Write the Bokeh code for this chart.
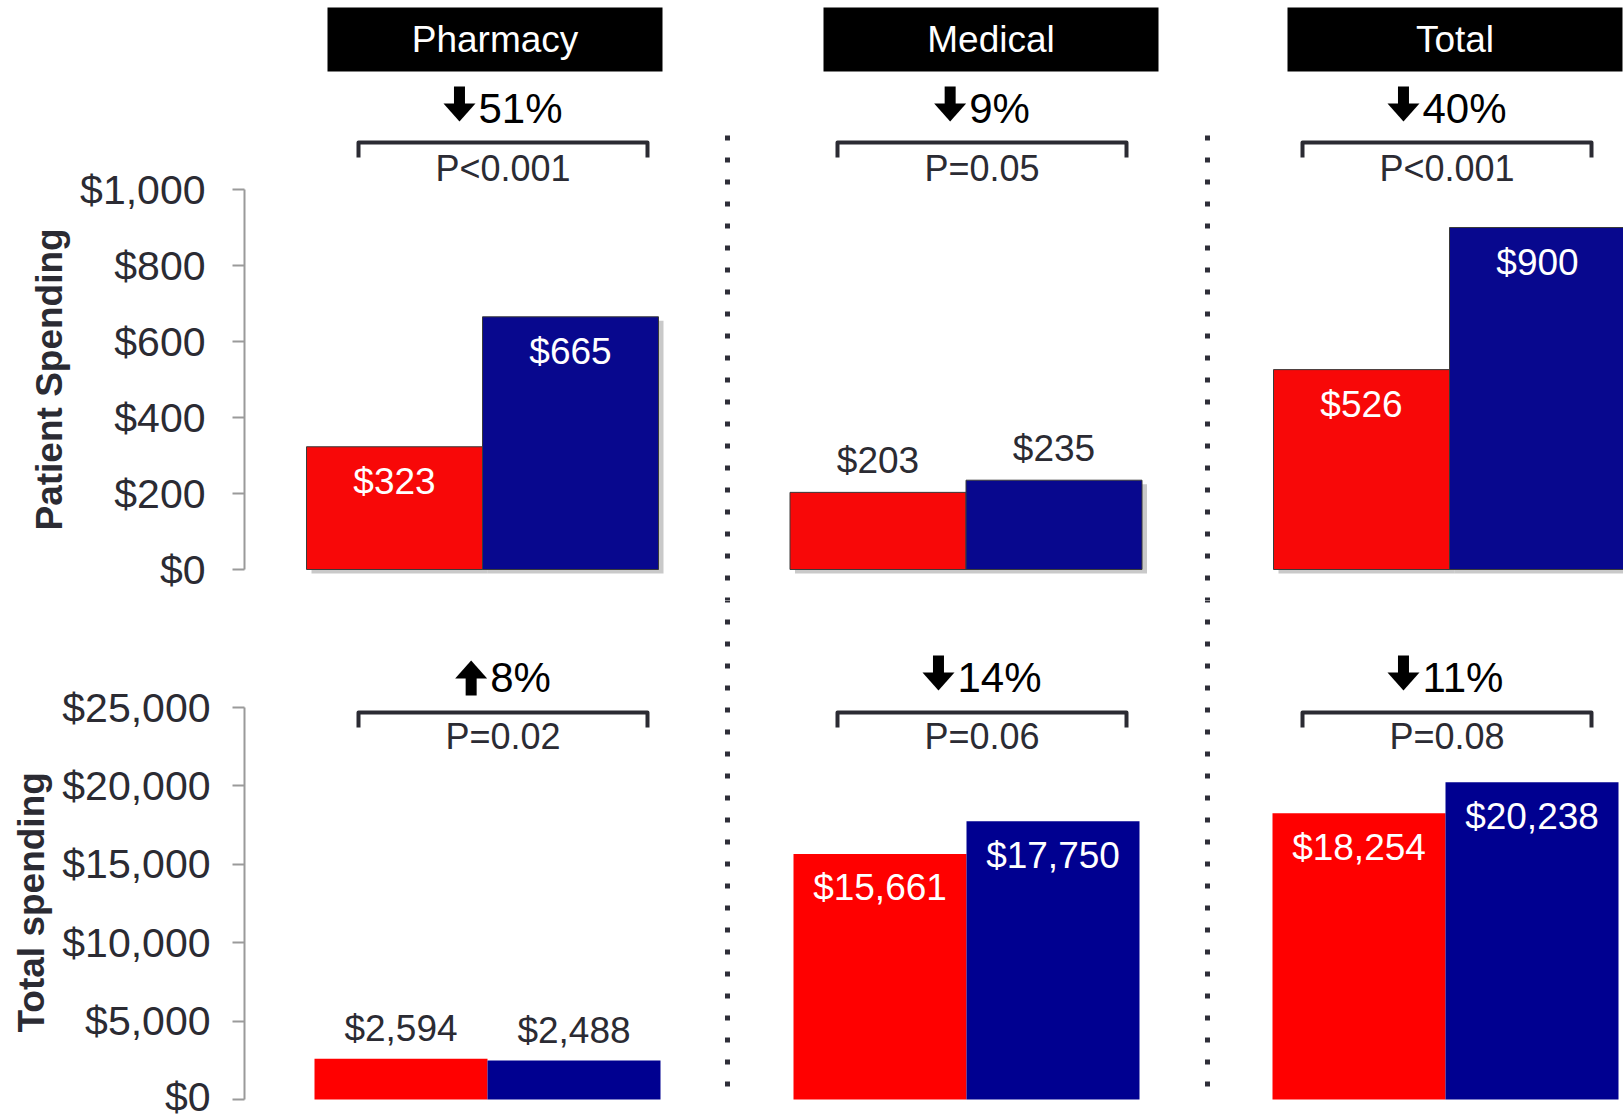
from bokeh.plotting import figure
from bokeh.layouts import column
from bokeh.models import Range1d, FixedTicker, NumeralTickFormatter, ColumnDataSource, Title
from bokeh.embed import file_html
from bokeh.resources import INLINE
from bokeh.core.properties import value

# ---------------- data ----------------
categories = ["Pharmacy", "Medical", "Total"]
patient_red = [323, 203, 526]
patient_blue = [665, 235, 900]
total_red = [2594, 15661, 18254]
total_blue = [2488, 17750, 20238]
patient_change = ["51%", "9%", "40%"]
patient_dir = ["down", "down", "down"]
patient_p = ["P<0.001", "P=0.05", "P<0.001"]
total_change = ["8%", "14%", "11%"]
total_dir = ["up", "down", "down"]
total_p = ["P=0.02", "P=0.06", "P=0.08"]
patient_ticks = [0, 200, 400, 600, 800, 1000]
total_ticks = [0, 5000, 10000, 15000, 20000, 25000]

# ---------------- layout (page pixels) ----------------
W = 1623
FRAME_LEFT = 244
FONT = "Liberation Sans"
TXT = "#2b2b33"
HEADER_LEFT = [327, 823, 1287]
HEADER_W = 335
BRACKET_C = [502.5, 981.5, 1446.5]
BRACKET_HALF = 144.5
SEP_X = [727, 1207]
CHAR_W = {"%": 0.889}
PCT_SIZE = 42


def text_width(s, size):
    return sum(CHAR_W.get(ch, 0.556) for ch in s) * size


def panel(height, page_top, zero_px, px_per_unit, ticks, ylabel, title_offset, tick_standoff,
          g0, gstep, bw, red, blue, red_col, blue_col, edge_col, shadow,
          pct, dirs, pvals, pct_y, p_y, br_y, headers, sep_y0, sep_y1,
          inside_off, above_off):
    y_start = -(page_top + height - zero_px) / px_per_unit
    y_end = (zero_px - page_top) / px_per_unit
    p = figure(width=W, height=height, x_range=Range1d(FRAME_LEFT, W),
               y_range=Range1d(y_start, y_end), output_backend="svg",
               toolbar_location=None, x_axis_location=None,
               min_border_left=FRAME_LEFT, min_border_right=0,
               min_border_top=0, min_border_bottom=0,
               outline_line_color=None)
    p.extra_y_ranges = {"page": Range1d(page_top + height, page_top)}
    p.xgrid.visible = False
    p.ygrid.visible = False

    ax = p.yaxis[0]
    ax.ticker = FixedTicker(ticks=ticks)
    ax.formatter = NumeralTickFormatter(format="$0,0")
    ax.bounds = (ticks[0], ticks[-1])
    ax.axis_line_color = "#9a9a9a"
    ax.axis_line_width = 2
    ax.major_tick_line_color = "#9a9a9a"
    ax.major_tick_line_width = 2
    ax.major_tick_out = 12
    ax.major_tick_in = 0
    ax.minor_tick_line_color = None
    ax.major_label_text_font = FONT
    ax.major_label_text_font_size = "41px"
    ax.major_label_text_color = TXT
    ax.major_label_standoff = tick_standoff

    # axis title (vertical), placed next to the axis
    p.add_layout(Title(text=ylabel, align="left", offset=title_offset, standoff=15,
                       text_font=FONT, text_font_size="37px", text_font_style="bold",
                       text_color=TXT), "left")

    # separators
    p.segment(x0=SEP_X, y0=[sep_y0] * len(SEP_X), x1=SEP_X, y1=[sep_y1] * len(SEP_X),
              y_range_name="page", line_color="#2e2e38", line_width=5,
              line_dash="5 17", line_cap="butt")

    n = len(categories)
    gc = [g0 + i * gstep for i in range(n)]
    xr = [c - bw / 2 for c in gc]
    xb = [c + bw / 2 for c in gc]

    if shadow:
        dy = 4 / px_per_unit
        p.vbar(x=[x + 5 for x in xr + xb], width=bw, top=[v - dy for v in red + blue],
               bottom=-dy, fill_color="#9c9c9c", fill_alpha=0.55, line_color=None)

    src = ColumnDataSource(dict(xr=xr, xb=xb, red=red, blue=blue))
    p.vbar(x="xr", width=bw, top="red", bottom=0, source=src, fill_color=red_col,
           line_color=edge_col, line_width=1)
    p.vbar(x="xb", width=bw, top="blue", bottom=0, source=src, fill_color=blue_col,
           line_color=edge_col, line_width=1)

    # value labels
    lx, ly, lt, lc, lo = [], [], [], [], []
    for x, v in list(zip(xr, red)) + list(zip(xb, blue)):
        inside = v > 0.25 * ticks[-1]
        lx.append(x)
        ly.append(v)
        lt.append("${:,}".format(v))
        lc.append("white" if inside else TXT)
        lo.append(inside_off if inside else -above_off)
    p.text(x=lx, y=ly, text=lt, text_color=lc, y_offset=lo, text_align="center",
           text_baseline="middle", text_font=value(FONT), text_font_size="37px")

    # headers
    if headers:
        hl = HEADER_LEFT
        p.quad(left=hl, right=[h + HEADER_W for h in hl], top=[7] * n, bottom=[71] * n,
               y_range_name="page", fill_color="black", line_color=None)
        p.text(x=[h + HEADER_W / 2 for h in hl], y=[39] * n, text=categories,
               y_range_name="page", text_color="white", text_align="center",
               text_baseline="middle", text_font=value(FONT), text_font_size="37px")

    # brackets
    xs = [[c - BRACKET_HALF, c - BRACKET_HALF, c + BRACKET_HALF, c + BRACKET_HALF] for c in BRACKET_C]
    ys = [[br_y + 15, br_y, br_y, br_y + 15] for _ in BRACKET_C]
    p.multi_line(xs=xs, ys=ys, y_range_name="page", line_color=TXT, line_width=4,
                 line_join="round")
    p.text(x=BRACKET_C, y=[p_y] * n, text=pvals, y_range_name="page", text_color=TXT,
           text_align="center", text_baseline="middle", text_font=value(FONT),
           text_font_size="36px")

    # change arrows + percentages
    tx, sl, sr, st, sb, hx, hy = [], [], [], [], [], [], []
    for c, s, d in zip(BRACKET_C, pct, dirs):
        w = 35 + text_width(s, PCT_SIZE)
        left = c - w / 2
        a = left + 16
        tx.append(left + 35)
        sl.append(a - 5.5)
        sr.append(a + 5.5)
        if d == "down":
            top, bot = pct_y - 22, pct_y + 13
            st.append(top)
            sb.append(bot - 16)
            hx.append([a - 16, a + 16, a])
            hy.append([bot - 18, bot - 18, bot])
        else:
            top, bot = pct_y - 17, pct_y + 18
            st.append(top + 16)
            sb.append(bot)
            hx.append([a - 16, a + 16, a])
            hy.append([top + 18, top + 18, top])
    p.quad(left=sl, right=sr, top=st, bottom=sb, y_range_name="page",
           fill_color="black", line_color=None)
    p.patches(xs=hx, ys=hy, y_range_name="page", fill_color="black", line_color=None)
    p.text(x=tx, y=[pct_y] * n, text=pct, y_range_name="page", text_color="black",
           text_align="left", text_baseline="middle", text_font=value(FONT),
           text_font_size="%dpx" % PCT_SIZE)
    return p


top = panel(height=600, page_top=0, zero_px=569, px_per_unit=0.38,
            ticks=patient_ticks, ylabel="Patient Spending", title_offset=70,
            tick_standoff=27,
            g0=482, gstep=483.5, bw=176, red=patient_red, blue=patient_blue,
            red_col="#f80808", blue_col="#08088e", edge_col="#3a3a3a", shadow=True,
            pct=patient_change, dirs=patient_dir, pvals=patient_p,
            pct_y=108, p_y=168, br_y=142, headers=True, sep_y0=135, sep_y1=600,
            inside_off=35, above_off=32)

bottom = panel(height=519, page_top=600, zero_px=1099, px_per_unit=392 / 25000,
               ticks=total_ticks, ylabel="Total spending", title_offset=87,
               tick_standoff=22,
               g0=487, gstep=479, bw=173, red=total_red, blue=total_blue,
               red_col="#ff0000", blue_col="#000090", edge_col=None, shadow=False,
               pct=total_change, dirs=total_dir, pvals=total_p,
               pct_y=677, p_y=736, br_y=712, headers=False, sep_y0=597, sep_y1=1097,
               inside_off=34, above_off=30)

layout = column(top, bottom, spacing=0)
open("out.html", "w").write(file_html(layout, INLINE))
